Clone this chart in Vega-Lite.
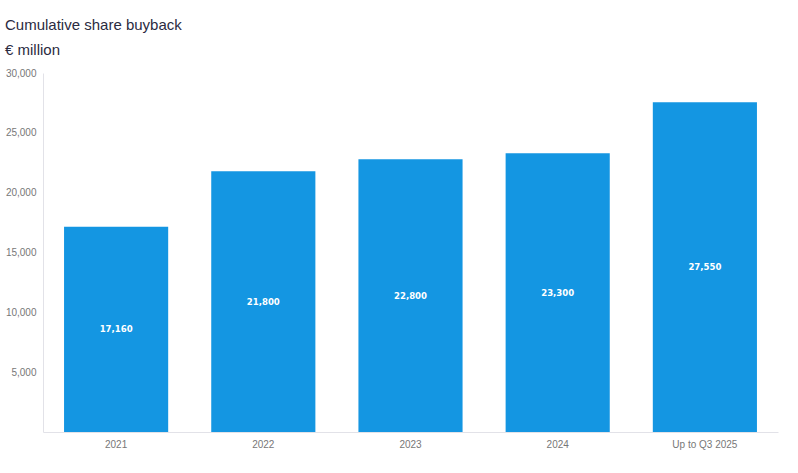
{
  "$schema": "https://vega.github.io/schema/vega-lite/v6.json",
  "autosize": {"type": "none"},
  "width": 735,
  "height": 359,
  "padding": {"left": 43, "top": 73, "right": 20, "bottom": 41},
  "background": "white",
  "config": {"view": {"stroke": null}},
  "title": {
    "text": "Cumulative share buyback",
    "subtitle": "€ million",
    "anchor": "start",
    "frame": "group",
    "dx": -38,
    "offset": 10,
    "font": "Liberation Sans",
    "fontSize": 15,
    "fontWeight": "normal",
    "color": "#2b2b3f",
    "subtitleFont": "Liberation Sans",
    "subtitleFontSize": 15,
    "subtitleColor": "#2b2b3f",
    "subtitlePadding": 10
  },
  "data": {
    "values": [
      {"period": "2021", "value": 17160},
      {"period": "2022", "value": 21800},
      {"period": "2023", "value": 22800},
      {"period": "2024", "value": 23300},
      {"period": "Up to Q3 2025", "value": 27550}
    ]
  },
  "transform": [{"calculate": "datum.value / 2", "as": "mid"}],
  "encoding": {
    "x": {
      "field": "period",
      "type": "nominal",
      "sort": null,
      "scale": {"paddingInner": 0.2925, "paddingOuter": 0.143},
      "axis": {
        "title": null,
        "labelAngle": 0,
        "labelFont": "Liberation Sans",
        "labelFontSize": 10,
        "labelColor": "#777777",
        "labelPadding": 7,
        "ticks": false,
        "domainColor": "#e2e2e8",
        "grid": false
      }
    }
  },
  "layer": [
    {
      "mark": {"type": "bar", "color": "#1496e2"},
      "encoding": {
        "y": {
          "field": "value",
          "type": "quantitative",
          "scale": {"domain": [0, 30000], "nice": false},
          "axis": {
            "title": null,
            "values": [5000, 10000, 15000, 20000, 25000, 30000],
            "format": ",d",
            "labelFont": "Liberation Sans",
            "labelFontSize": 10,
            "labelColor": "#777777",
            "labelPadding": 7,
            "ticks": false,
            "grid": false,
            "domainColor": "#e2e2e8"
          }
        }
      }
    },
    {
      "mark": {
        "type": "text",
        "color": "white",
        "font": "DejaVu Sans Condensed",
        "fontWeight": "bold",
        "fontSize": 9.5,
        "baseline": "middle"
      },
      "encoding": {
        "y": {"field": "mid", "type": "quantitative"},
        "text": {"field": "value", "type": "quantitative", "format": ",d"}
      }
    }
  ]
}
